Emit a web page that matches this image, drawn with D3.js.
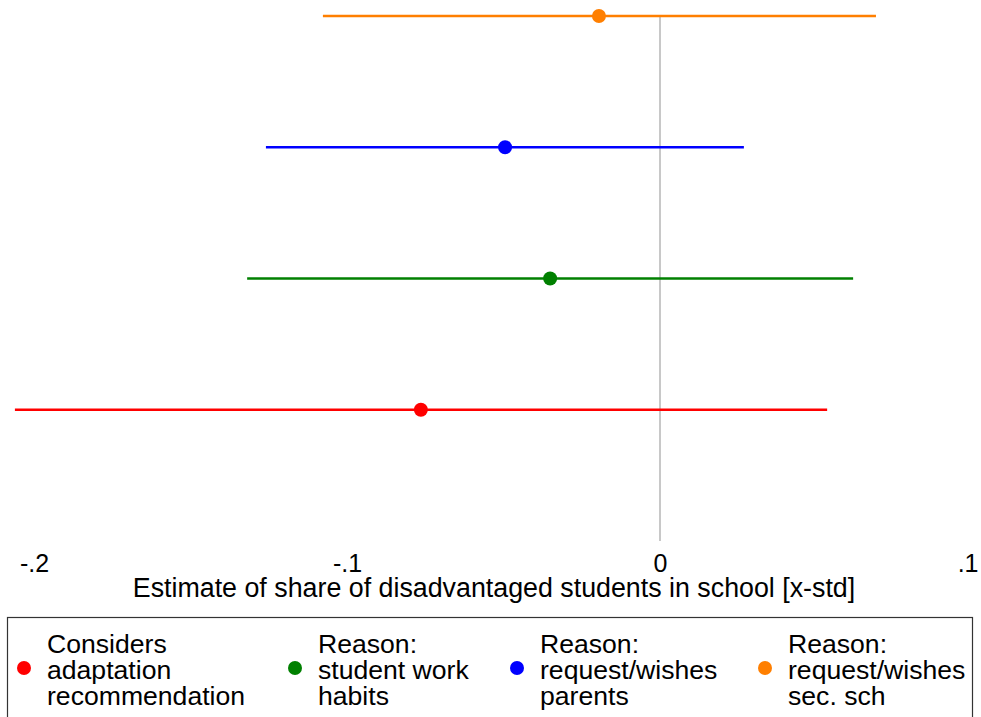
<!DOCTYPE html>
<html>
<head>
<meta charset="utf-8">
<script src="https://cdn.jsdelivr.net/npm/d3@7"></script>
<style>
  html, body { margin: 0; padding: 0; background: #fff; }
  svg { display: block; font-family: "Liberation Sans", Arial, sans-serif; }
</style>
</head>
<body>
<svg id="chart" width="981" height="717"></svg>
<script>
// Coefficient estimates with 95% confidence intervals, bottom row first
const labels = [
  ["Considers", "adaptation", "recommendation"],
  ["Reason:", "student work", "habits"],
  ["Reason:", "request/wishes", "parents"],
  ["Reason:", "request/wishes", "sec. sch"]
];
const estimates = [-0.0764, -0.0351, -0.0495, -0.0195];
const ciLow     = [-0.2061, -0.1319, -0.1259, -0.1077];
const ciHigh    = [ 0.0534,  0.0617,  0.0268,  0.0690];
const colors    = ["#ff0000", "#008000", "#0000ff", "#ff7f00"];
const xTicks    = [-0.2, -0.1, 0, 0.1];
const xTickText = ["-.2", "-.1", "0", ".1"];
const xTitle    = "Estimate of share of disadvantaged students in school [x-std]";

const svg = d3.select("#chart");

const x = d3.scaleLinear().domain([-0.2, 0.1]).range([34, 973]);
const y = d3.scaleLinear().domain([0, 4]).range([541, 16]);

const rows = estimates.map((v, i) => ({
  pos: i + 1, est: v, lo: ciLow[i], hi: ciHigh[i], color: colors[i], label: labels[i]
}));

// reference line at zero
svg.append("line")
  .attr("x1", x(0)).attr("x2", x(0))
  .attr("y1", y(4)).attr("y2", y(0))
  .attr("stroke", "#c8c8c8").attr("stroke-width", 2);

// confidence intervals
svg.selectAll("line.ci").data(rows).join("line")
  .attr("class", "ci")
  .attr("x1", d => x(d.lo)).attr("x2", d => x(d.hi))
  .attr("y1", d => y(d.pos)).attr("y2", d => y(d.pos))
  .attr("stroke", d => d.color).attr("stroke-width", 2.5);

// point estimates
svg.selectAll("circle.est").data(rows).join("circle")
  .attr("class", "est")
  .attr("cx", d => x(d.est)).attr("cy", d => y(d.pos))
  .attr("r", 7).attr("fill", d => d.color);

// x axis: labels only, no axis line or ticks
const axis = d3.axisBottom(x).tickValues(xTicks).tickSize(0).tickPadding(0)
  .tickFormat((d, i) => xTickText[i]);
const gx = svg.append("g").attr("transform", "translate(0,552)").call(axis);
gx.select(".domain").remove();
gx.selectAll("text").attr("font-size", 25).attr("fill", "#000")
  .attr("font-family", "Liberation Sans, Arial, sans-serif").attr("dy", "0.8em");
// keep the rightmost label inside the frame
gx.selectAll(".tick").filter(d => d === 0.1).select("text")
  .attr("text-anchor", "end").attr("x", 5);

svg.append("text")
  .attr("x", 494).attr("y", 597)
  .attr("text-anchor", "middle").attr("font-size", 26.8).attr("fill", "#000")
  .text(xTitle);

// legend
svg.append("rect")
  .attr("x", 7.5).attr("y", 617.5).attr("width", 965).attr("height", 120)
  .attr("fill", "#fff").attr("stroke", "#333").attr("stroke-width", 1.2);

const legendX = [24, 295, 517, 765];
const item = svg.selectAll("g.item").data(rows).join("g")
  .attr("class", "item")
  .attr("transform", (d, i) => `translate(${legendX[i]},0)`);
item.append("circle").attr("cx", 0).attr("cy", 668).attr("r", 7)
  .attr("fill", d => d.color);
item.append("text").attr("x", 23).attr("font-size", 26.6).attr("fill", "#000")
  .selectAll("tspan").data(d => d.label).join("tspan")
  .attr("x", 23).attr("y", (t, j) => 652.5 + j * 26).text(t => t);
</script>
</body>
</html>
